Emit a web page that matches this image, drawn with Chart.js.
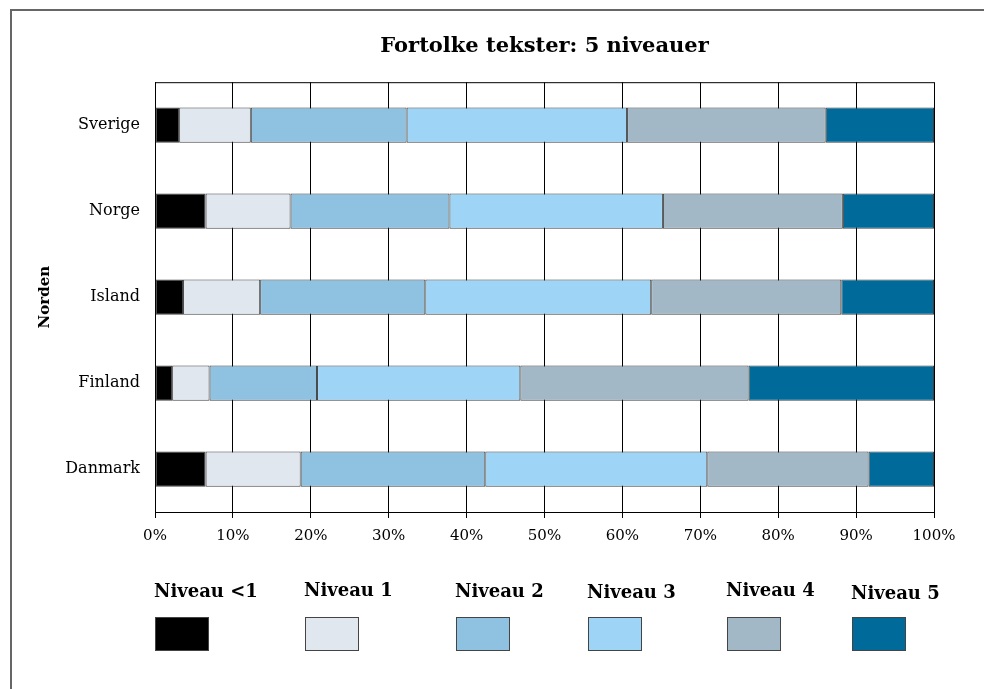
<!DOCTYPE html>
<html>
<head>
<meta charset="utf-8">
<script src="https://cdn.jsdelivr.net/npm/chart.js@4.4.1/dist/chart.umd.min.js"></script>
<style>
  html, body { margin: 0; padding: 0; background: #fff; }
  #wrap { width: 984px; height: 689px; position: relative; }
</style>
</head>
<body>
<div id="wrap"><canvas id="chart" width="984" height="689"></canvas></div>
<script>
// Data
const countries = ['Sverige', 'Norge', 'Island', 'Finland', 'Danmark'];
const levelLabels = ['Niveau <1', 'Niveau 1', 'Niveau 2', 'Niveau 3', 'Niveau 4', 'Niveau 5'];
const levelColors = ['#000000', '#e0e7ee', '#8fc1e0', '#9ed4f5', '#a2b8c7', '#006b9a'];

const niveauUnder1 = [3.1, 6.5, 3.6, 2.2, 6.5];
const niveau1 = [9.2, 10.9, 9.9, 4.8, 12.2];
const niveau2 = [20.0, 20.4, 21.2, 13.8, 23.7];
const niveau3 = [28.3, 27.4, 29.0, 26.1, 28.5];
const niveau4 = [25.5, 23.1, 24.4, 29.3, 20.7];
const niveau5 = [13.9, 11.7, 11.9, 23.8, 8.4];
const seriesValues = [niveauUnder1, niveau1, niveau2, niveau3, niveau4, niveau5];

const serif = "'DejaVu Serif', 'Liberation Serif', serif";

// Legend layout (box left edges, text centre lines)
const legendBoxX = [155, 305, 456, 588, 727, 852];
const legendTextY = [592, 591, 592, 593, 591, 594];

// Frame + plot border + custom legend
const decorPlugin = {
    id: 'decor',
    beforeDraw(chart) {
        const ctx = chart.ctx;
        ctx.save();
        ctx.strokeStyle = '#666';
        ctx.lineWidth = 2;
        ctx.beginPath();
        ctx.moveTo(11, 689);
        ctx.lineTo(11, 10);
        ctx.lineTo(990, 10);
        ctx.stroke();
        ctx.restore();
    },
    afterDraw(chart) {
        const ctx = chart.ctx;
        const a = chart.chartArea;
        ctx.save();
        ctx.strokeStyle = '#000';
        ctx.lineWidth = 1;
        ctx.beginPath();
        ctx.moveTo(a.left, a.top + 0.5);
        ctx.lineTo(a.right, a.top + 0.5);
        ctx.stroke();

        ctx.font = 'bold 18px ' + serif;
        ctx.textAlign = 'left';
        ctx.textBaseline = 'middle';
        chart.data.datasets.forEach((ds, i) => {
            ctx.fillStyle = '#000';
            ctx.fillText(ds.label, legendBoxX[i] - 1, legendTextY[i]);
            ctx.fillStyle = ds.backgroundColor;
            ctx.fillRect(legendBoxX[i], 617, 53, 33);
            ctx.strokeStyle = '#444';
            ctx.strokeRect(legendBoxX[i] + 0.5, 617.5, 53, 33);
        });
        ctx.restore();
    }
};

const datasets = levelLabels.map((label, i) => ({
    label: label,
    data: seriesValues[i],
    backgroundColor: levelColors[i],
    borderColor: 'rgba(30,30,30,0.85)',
    borderWidth: 1,
    borderSkipped: false,
    categoryPercentage: 1,
    barPercentage: 0.41
}));

new Chart(document.getElementById('chart').getContext('2d'), {
    type: 'bar',
    data: { labels: countries, datasets: datasets },
    options: {
        indexAxis: 'y',
        responsive: false,
        animation: false,
        layout: { padding: { left: 30, right: 50, top: 14, bottom: 137 } },
        plugins: {
            legend: { display: false },
            tooltip: { enabled: false },
            title: {
                display: true,
                text: 'Fortolke tekster: 5 niveauer',
                fullSize: false,
                color: '#000',
                font: { family: serif, size: 21, weight: 'bold', lineHeight: 1.2 },
                padding: { top: 20, bottom: 23 }
            }
        },
        scales: {
            x: {
                stacked: true,
                min: 0,
                max: 100,
                ticks: {
                    stepSize: 10,
                    color: '#000',
                    padding: 9,
                    font: { family: serif, size: 15 },
                    callback: v => v + '%'
                },
                grid: { color: '#000', lineWidth: 1, drawTicks: true, tickLength: 6, tickColor: '#000' },
                border: { color: '#000', width: 1 },
                afterFit(scale) { scale.height = 40; }
            },
            y: {
                stacked: true,
                ticks: {
                    color: '#000',
                    padding: 15,
                    font: { family: serif, size: 16 }
                },
                grid: { display: false, drawTicks: false },
                border: { color: '#000', width: 1 },
                title: {
                    display: true,
                    text: 'Norden',
                    color: '#000',
                    font: { family: serif, size: 15, weight: 'bold' },
                    padding: { top: 6 }
                },
                afterFit(scale) { scale.width = 125; }
            }
        }
    },
    plugins: [decorPlugin]
});
</script>
</body>
</html>
